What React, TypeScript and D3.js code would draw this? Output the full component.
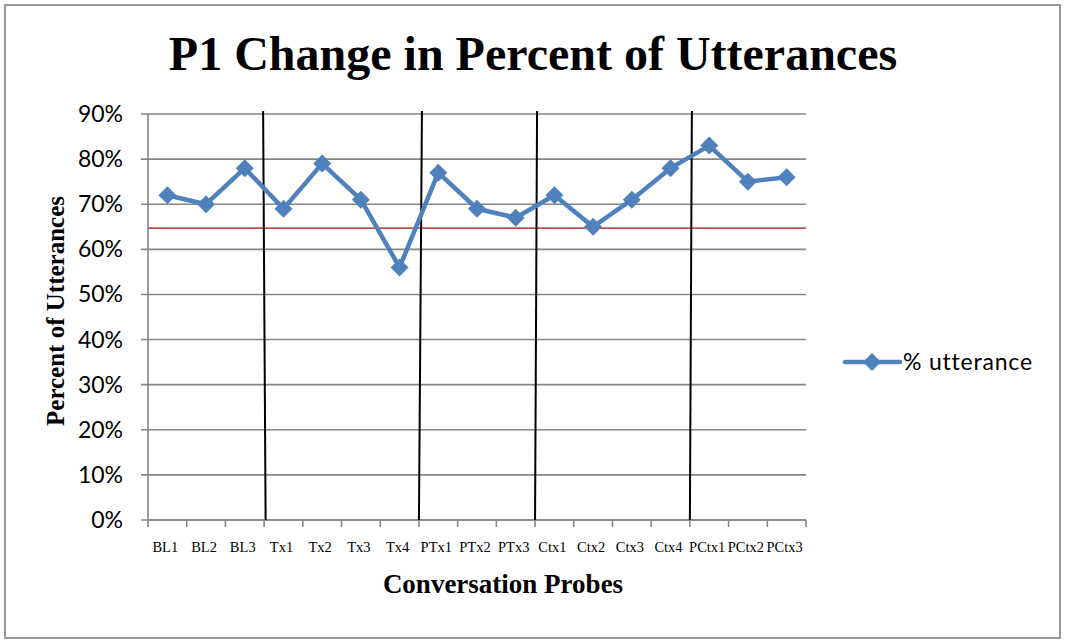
import React from "react";
import * as d3 from "d3";

const categories = ["BL1","BL2","BL3","Tx1","Tx2","Tx3","Tx4","PTx1","PTx2","PTx3","Ctx1","Ctx2","Ctx3","Ctx4","PCtx1","PCtx2","PCtx3"];
const utterance = [72,70,78,69,79,71,56,77,69,67,72,65,71,78,83,75,76];
const yTicks = [0,10,20,30,40,50,60,70,80,90];
const criterion = 64.7;
const phaseBoundaries = [3,7,10,14];
const phaseTilt = [-1,3,2,2];

const W = 1065, H = 641;
const M = { left: 148, right: 806, top: 114, bottom: 520 };
const BLUE = "#4F81BD";
const SERIF = "'Liberation Serif', 'Times New Roman', serif";
const SANS = "Lato, 'Open Sans', sans-serif";

export default function App() {
  const x = d3.scaleBand<string>().domain(categories).range([M.left, M.right]).padding(0);
  const y = d3.scaleLinear().domain([0, 90]).range([M.bottom, M.top]);
  const cx = (c: string) => (x(c) as number) + x.bandwidth() / 2;
  const line = d3.line<number>().x((_, i) => cx(categories[i])).y(d => y(d));
  const diamond = (px: number, py: number, r = 9) => `M${px},${py - r}L${px + r},${py}L${px},${py + r}L${px - r},${py}Z`;
  const boundaryX = (i: number) => M.left + i * x.step();

  return (
    <svg width={W} height={H} style={{ position: "absolute", left: 0, top: 0, display: "block" }}>
      <rect x={0} y={0} width={W} height={H} fill="#fff" />
      <rect x={5} y={5} width={1055} height={633} fill="none" stroke="#9a9a9a" strokeWidth={2} />
      <text x={533} y={70} textAnchor="middle" fontFamily={SERIF} fontWeight="bold" fontSize={48}>P1 Change in Percent of Utterances</text>

      {yTicks.map(t => (
        <g key={t}>
          <line x1={M.left - 7} x2={M.right} y1={y(t)} y2={y(t)} stroke="#868686" strokeWidth={1.6} />
          <text x={123} y={y(t) + 8} textAnchor="end" fontFamily={SANS} fontSize={23} fill="#000">{t}%</text>
        </g>
      ))}
      <line x1={M.left} x2={M.left} y1={M.top} y2={M.bottom} stroke="#868686" strokeWidth={1.6} />
      <line x1={M.left} x2={M.right} y1={M.bottom} y2={M.bottom} stroke="#868686" strokeWidth={1.6} />
      {d3.range(categories.length + 1).map(i => (
        <line key={i} x1={boundaryX(i)} x2={boundaryX(i)} y1={M.bottom} y2={M.bottom + 7} stroke="#868686" strokeWidth={1.6} />
      ))}
      {categories.map(c => (
        <text key={c} x={cx(c) - 2} y={552} textAnchor="middle" fontFamily={SERIF} fontSize={14.5} fill="#000">{c}</text>
      ))}

      <line x1={M.left} x2={M.right} y1={y(criterion)} y2={y(criterion)} stroke="#C0504D" strokeWidth={1.6} />

      {phaseBoundaries.map((b, i) => (
        <line key={b} x1={boundaryX(b) + phaseTilt[i]} x2={boundaryX(b) + (i === 0 ? 1.5 : 0)} y1={111} y2={M.bottom} stroke="#000" strokeWidth={2} />
      ))}

      <path d={line(utterance) || ""} fill="none" stroke={BLUE} strokeWidth={4.5} strokeLinejoin="round" />
      {utterance.map((v, i) => (
        <path key={i} d={diamond(cx(categories[i]), y(v))} fill={BLUE} />
      ))}

      <text transform={`translate(64,${311}) rotate(-90)`} textAnchor="middle" fontFamily={SERIF} fontWeight="bold" fontSize={25}>Percent of Utterances</text>
      <text x={503} y={593} textAnchor="middle" fontFamily={SERIF} fontWeight="bold" fontSize={27}>Conversation Probes</text>

      <line x1={845} x2={900} y1={362} y2={362} stroke={BLUE} strokeWidth={4.5} strokeLinecap="round" />
      <path d={diamond(872, 362)} fill={BLUE} />
      <text x={903} y={370} fontFamily={SANS} fontSize={23} letterSpacing={0.8} fill="#000">% utterance</text>
    </svg>
  );
}
